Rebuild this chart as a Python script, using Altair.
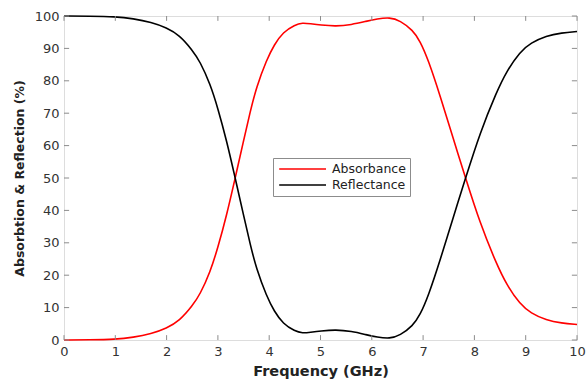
import altair as alt
import pandas as pd

freq = [0, 0.5, 1.0, 1.35, 1.7, 2.0, 2.25, 2.5, 2.65, 2.85, 3.0, 3.17, 3.33, 3.5, 3.63,
        3.75, 3.95, 4.1, 4.27, 4.5, 4.65, 4.8, 5.0, 5.3, 5.6, 5.9, 6.1, 6.35, 6.55, 6.8,
        6.94, 7.1, 7.33, 7.59, 7.82, 8.11, 8.43, 8.63, 8.89, 9.1, 9.4, 9.7, 10]
absorbance = [0, 0.05, 0.2, 0.8, 1.9, 3.6, 5.9, 10.5, 14, 21, 28.5, 38.5, 49.5, 61.5, 70.5,
              78, 86.5, 91.2, 95, 97.3, 97.9, 97.6, 97.2, 96.8, 97.3, 98.4, 99.1, 99.6, 98.6, 95.6,
              92.3, 86.5, 75.5, 62, 50.4, 36, 23.5, 17, 11, 8.3, 6.1, 5.2, 4.8]
reflectance = [100, 99.95, 99.8, 99.2, 98.1, 96.4, 94.1, 89.5, 86, 79, 71.5, 61.5, 50.5, 38.5, 29.5,
               22, 13.5, 8.8, 5, 2.7, 2.1, 2.4, 2.8, 3.2, 2.7, 1.6, 0.9, 0.4, 1.4, 4.4,
               7.7, 13.5, 24.5, 38, 49.6, 64, 76.5, 83, 89, 91.7, 93.9, 94.8, 95.2]
series_names = ["Absorbance", "Reflectance"]
series_colors = ["#FF0000", "#000000"]
x_ticks = [0, 1, 2, 3, 4, 5, 6, 7, 8, 9, 10]
y_ticks = [0, 10, 20, 30, 40, 50, 60, 70, 80, 90, 100]

rows = []
for f, a, r in zip(freq, absorbance, reflectance):
    rows.append({"f": f, "v": a, "s": series_names[0]})
    rows.append({"f": f, "v": r, "s": series_names[1]})
df = pd.DataFrame(rows)

FONT = "DejaVu Sans"
GRID = "#8c8c8c"

xscale = alt.Scale(domain=[0, 10], nice=False, zero=False)
yscale = alt.Scale(domain=[0, 100], nice=False, zero=False)
xaxis = alt.Axis(values=x_ticks, title="Frequency (GHz)", titleFontSize=14.5, titlePadding=6,
                 labelOverlap=False, labelFlush=False)
yaxis = alt.Axis(values=y_ticks, title="Absorbtion & Reflection (%)", titleFontSize=12.5,
                 titlePadding=8, labelOverlap=False, labelFlush=False)

lines = alt.Chart(df).mark_line(strokeWidth=1.6, interpolate="basis").encode(
    x=alt.X("f:Q", scale=xscale, axis=xaxis),
    y=alt.Y("v:Q", scale=yscale, axis=yaxis),
    color=alt.Color("s:N", scale=alt.Scale(domain=series_names, range=series_colors),
                    legend=alt.Legend(title=None, orient="none", legendX=209, legendY=142,
                                      symbolType="M-0.8,0H7", symbolSize=144,
                                      symbolStrokeWidth=1.6, symbolFillColor="transparent",
                                      labelFont=FONT, labelFontSize=12.5, labelColor="#222222",
                                      fillColor="white", strokeColor=GRID, padding=4,
                                      rowPadding=2, labelOffset=41)),
)

xt = pd.DataFrame({"t": x_ticks})
yt = pd.DataFrame({"t": y_ticks})
bottom_ticks = alt.Chart(xt).mark_rule(color=GRID, strokeWidth=1).encode(
    x=alt.X("t:Q", scale=xscale, axis=xaxis), y=alt.datum(0, scale=yscale, axis=yaxis),
    y2=alt.datum(1.5))
top_ticks = alt.Chart(xt).mark_rule(color=GRID, strokeWidth=1).encode(
    x=alt.X("t:Q", scale=xscale, axis=xaxis), y=alt.datum(100, scale=yscale, axis=yaxis),
    y2=alt.datum(98.5))
left_ticks = alt.Chart(yt).mark_rule(color=GRID, strokeWidth=1).encode(
    y=alt.Y("t:Q", scale=yscale, axis=yaxis), x=alt.datum(0, scale=xscale, axis=xaxis),
    x2=alt.datum(0.1))
right_ticks = alt.Chart(yt).mark_rule(color=GRID, strokeWidth=1).encode(
    y=alt.Y("t:Q", scale=yscale, axis=yaxis), x=alt.datum(10, scale=xscale, axis=xaxis),
    x2=alt.datum(9.9))

chart = alt.layer(lines, bottom_ticks, top_ticks, left_ticks, right_ticks).properties(
    width=513, height=324,
    autosize=alt.AutoSizeParams(type="none"),
    padding={"left": 64, "top": 16, "right": 9, "bottom": 43},
).configure_view(stroke=GRID, strokeWidth=1.2).configure(background="white").configure_axis(
    domain=False, ticks=False, grid=False, labelPadding=5, labelFontSize=13, labelFont=FONT,
    labelColor="#333333", titleFont=FONT, titleFontWeight="bold", titleColor="#222222")

chart.save("out.html", embed_options={"renderer": "svg", "actions": False})
